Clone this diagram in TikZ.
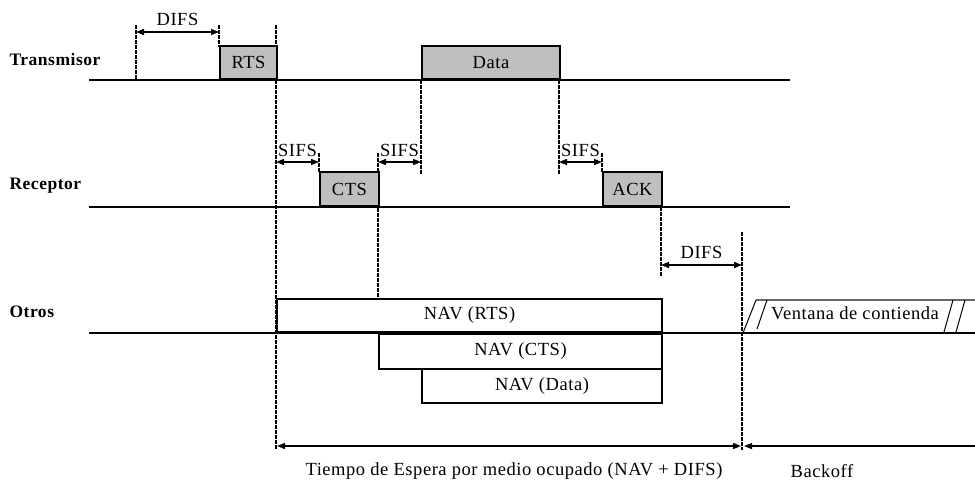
\documentclass[tikz,border=0pt]{standalone}
\usepackage{fontspec}
\setmainfont{Liberation Serif}[LetterSpace=3]
\usetikzlibrary{arrows.meta, positioning}
\tikzstyle{frame} = [rectangle, draw, line width=2pt, fill=black!25, inner sep=0pt]
\tikzstyle{nav} = [rectangle, draw, line width=2pt, fill=white, inner sep=0pt]
\tikzstyle{medium} = [line width=2pt]
\tikzstyle{guide} = [line width=2pt, dash pattern=on 3.5pt off 1.5pt]
\tikzstyle{span} = [<->, >={Triangle[length=8pt, width=6pt]}, line width=1.5pt]
\tikzstyle{station} = [font=\fontsize{17.5}{20}\selectfont\bfseries, anchor=west]

\begin{document}
\begin{tikzpicture}[x=1pt, y=-1pt, font=\fontsize{18.5}{22}\selectfont]
  \useasboundingbox (0,0) rectangle (975,483);

  % estaciones
  \node[station] (tx) at (6,60) {Transmisor};
  \node[station] (rx) at (6,186) {Receptor};
  \node[station] (ot) at (6,312) {Otros};

  % lineas de tiempo
  \coordinate (t0) at (89,80);
  \coordinate (t1) at (790,80);
  \coordinate (r0) at (89,207);
  \coordinate (r1) at (790,207);
  \coordinate (o0) at (89,333);
  \coordinate (o1) at (975,333);

  % guias verticales
  \coordinate (g1a) at (136,25);   \coordinate (g1b) at (136,80);
  \coordinate (g2a) at (219,25);   \coordinate (g2b) at (219,47);
  \coordinate (g3a) at (276,25);   \coordinate (g3b) at (276,450);
  \coordinate (g4a) at (319,153);  \coordinate (g4b) at (319,173);
  \coordinate (g5a) at (378,153);  \coordinate (g5b) at (378,300);
  \coordinate (g6a) at (421,80);   \coordinate (g6b) at (421,174);
  \coordinate (g7a) at (559,80);   \coordinate (g7b) at (559,174);
  \coordinate (g8a) at (602,153);  \coordinate (g8b) at (602,173);
  \coordinate (g9a) at (661,207);  \coordinate (g9b) at (661,276);
  \coordinate (g10a) at (742,232); \coordinate (g10b) at (742,450);
  \draw[guide] (g1a) -- (g1b);
  \draw[guide] (g2a) -- (g2b);
  \draw[guide] (g3a) -- (g3b);
  \draw[guide] (g4a) -- (g4b);
  \draw[guide] (g5a) -- (g5b);
  \draw[guide] (g6a) -- (g6b);
  \draw[guide] (g7a) -- (g7b);
  \draw[guide] (g8a) -- (g8b);
  \draw[guide] (g9a) -- (g9b);
  \draw[guide] (g10a) -- (g10b);

  % tramas
  \node[frame, minimum width=57pt, minimum height=33pt, anchor=south west] (rts) at (219,80) {RTS};
  \node[frame, minimum width=138pt, minimum height=33pt, anchor=south west] (data) at (421,80) {Data};
  \node[frame, minimum width=59pt, minimum height=34pt, anchor=south west] (cts) at (319,207) {CTS};
  \node[frame, minimum width=59pt, minimum height=34pt, anchor=south west] (ack) at (602,207) {ACK};

  % NAV
  \node[nav, minimum width=385pt, minimum height=33pt, anchor=south west] (navrts) at (276,333) {NAV (RTS)};
  \node[nav, minimum width=283pt, minimum height=35pt, anchor=north west] (navcts) at (378,333) {NAV (CTS)};
  \node[nav, minimum width=240pt, minimum height=34pt, anchor=north west] (navdata) at (421,368) {NAV (Data)};

  \draw[medium] (t0) -- (t1);
  \draw[medium] (r0) -- (r1);
  \draw[medium] (o0) -- (o1);

  % intervalos
  \coordinate (d1a) at (136,32);  \coordinate (d1b) at (219,32);
  \coordinate (s1a) at (276,162); \coordinate (s1b) at (319,162);
  \coordinate (s2a) at (378,162); \coordinate (s2b) at (421,162);
  \coordinate (s3a) at (559,162); \coordinate (s3b) at (602,162);
  \coordinate (d2a) at (661,265); \coordinate (d2b) at (742,265);
  \draw[span] (d1a) -- (d1b) node[midway, above=2pt] (difs1) {DIFS};
  \draw[span] (s1a) -- (s1b) node[midway, above=1pt] (sifs1) {SIFS};
  \draw[span] (s2a) -- (s2b) node[midway, above=1pt] (sifs2) {SIFS};
  \draw[span] (s3a) -- (s3b) node[midway, above=1pt] (sifs3) {SIFS};
  \draw[span] (d2a) -- (d2b) node[midway, above=2pt] (difs2) {DIFS};

  % ventana de contienda
  \coordinate (w0) at (756,300);
  \coordinate (w1) at (975,300);
  \draw[line width=1.2pt, black!60] (w0) -- (w1);
  \draw[line width=1pt] (743,333) -- (756,300);
  \draw[line width=1pt] (757,329) -- (767,300);
  \draw[line width=1pt] (944,332) -- (953,300);
  \draw[line width=1pt] (956,332) -- (965,300);
  \node (cw) at (855,313) {Ventana de contienda};

  % espera y backoff
  \coordinate (e0) at (277,446);
  \coordinate (e1) at (741,446);
  \coordinate (b0) at (744,446);
  \coordinate (b1) at (975,446);
  \draw[span] (e0) -- (e1);
  \draw[span, <-] (b0) -- (b1);
  \node (wait) at (514,471) {Tiempo de Espera por medio ocupado (NAV + DIFS)};
  \node (bo) at (822,471) {Backoff};
\end{tikzpicture}
\end{document}
